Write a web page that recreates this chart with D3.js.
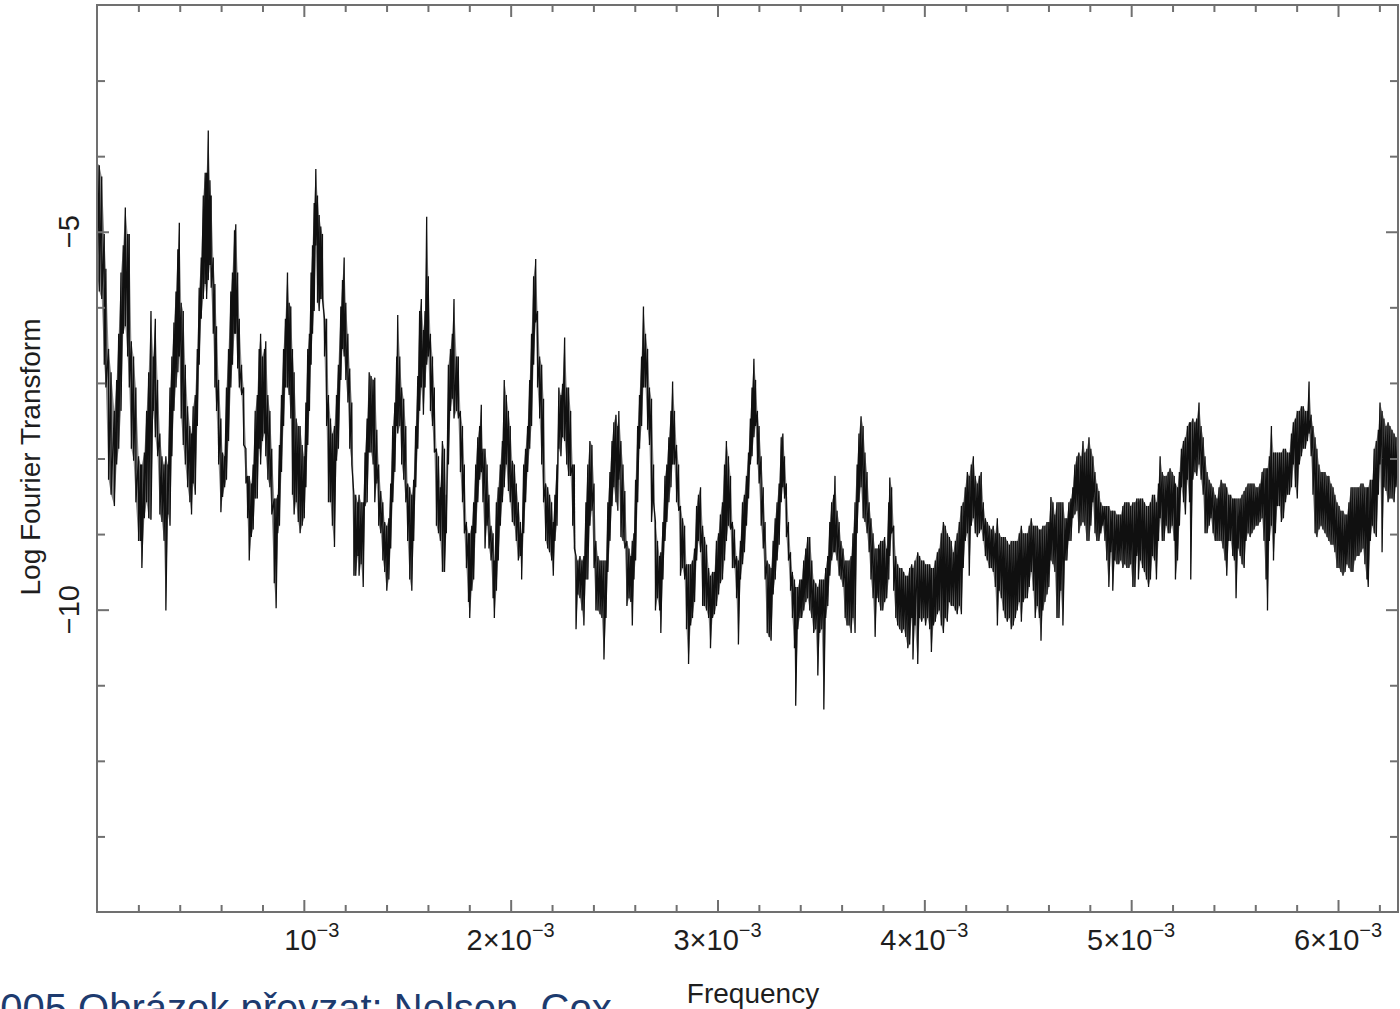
<!DOCTYPE html>
<html>
<head>
<meta charset="utf-8">
<script src="https://cdn.jsdelivr.net/npm/d3@7/dist/d3.min.js"></script>
<style>
body { margin: 0; background: #fff; overflow: hidden; }
svg { display: block; }
text { font-family: "Liberation Sans", Arial, Helvetica, sans-serif; fill: #1e1e1e; }
</style>
</head>
<body>
<script>
//place script in anon function
(function(){

// data: frequency in units of 10^-3,
// upper / lower envelope of the log Fourier transform at that frequency

// 0 - 1.26 x10^-3
var freqA = [0.000,0.011,0.023,0.035,0.043,0.056,0.068,0.084,0.095,0.105,
0.116,0.127,0.137,0.148,0.156,0.166,0.177,0.188,0.201,0.211,
0.217,0.229,0.240,0.250,0.261,0.272,0.282,0.293,0.304,0.314,
0.324,0.333,0.343,0.353,0.362,0.372,0.382,0.391,0.398,0.407,
0.417,0.427,0.438,0.449,0.457,0.465,0.475,0.485,0.494,0.504,
0.514,0.523,0.530,0.538,0.546,0.552,0.562,0.570,0.578,0.588,
0.599,0.607,0.617,0.626,0.636,0.647,0.655,0.665,0.671,0.680,
0.688,0.699,0.709,0.720,0.728,0.736,0.746,0.755,0.765,0.775,
0.784,0.791,0.800,0.810,0.816,0.826,0.836,0.845,0.857,0.866,
0.874,0.882,0.892,0.902,0.911,0.921,0.929,0.937,0.945,0.953,
0.963,0.973,0.982,0.992,1.002,1.010,1.019,1.027,1.035,1.042,
1.050,1.058,1.066,1.074,1.082,1.090,1.100,1.110,1.119,1.129,
1.138,1.148,1.158,1.167,1.179,1.187,1.195,1.203,1.213,1.222,
1.232,1.242,1.251,1.261];
var upperA = [-4.09,-4.12,-4.27,-5.03,-5.49,-6.55,-6.86,-7.37,-6.96,-6.35,
-5.54,-5.18,-4.68,-5.03,-5.03,-6.45,-6.65,-7.06,-7.97,-8.08,
-8.08,-7.92,-7.37,-6.86,-6.05,-6.65,-6.15,-6.96,-7.67,-7.97,
-8.08,-7.97,-8.08,-7.06,-6.65,-6.20,-5.79,-5.23,-4.88,-5.94,
-6.05,-6.76,-7.31,-7.57,-7.67,-7.31,-7.16,-6.55,-5.74,-5.34,
-4.52,-4.22,-4.22,-3.66,-4.32,-4.52,-5.34,-5.69,-6.25,-6.96,
-7.47,-7.92,-7.97,-7.06,-6.55,-5.79,-5.54,-4.98,-4.90,-5.54,
-6.15,-6.76,-7.06,-7.87,-8.23,-8.23,-8.33,-8.08,-7.37,-7.16,
-6.55,-6.35,-6.65,-6.55,-6.45,-7.16,-7.37,-7.87,-8.53,-8.53,
-8.48,-7.82,-7.16,-6.55,-6.15,-5.54,-5.94,-5.99,-6.55,-6.86,
-7.47,-7.57,-7.57,-7.82,-7.97,-7.26,-6.55,-6.35,-5.54,-5.18,
-4.62,-4.17,-4.52,-4.78,-4.93,-5.03,-6.15,-6.15,-7.16,-7.47,
-7.67,-7.57,-7.16,-6.76,-5.99,-5.64,-5.34,-5.94,-6.35,-6.81,
-7.26,-8.48,-8.48,-8.58];
var lowerA = [-5.54,-5.79,-5.89,-6.76,-7.06,-8.28,-8.48,-8.63,-8.08,-7.87,
-7.37,-6.35,-6.25,-6.65,-7.06,-7.87,-8.03,-8.58,-9.09,-9.09,
-9.45,-8.79,-8.58,-8.79,-8.81,-7.37,-7.72,-7.97,-8.74,-8.84,
-9.09,-10.01,-8.74,-8.89,-7.97,-7.37,-7.06,-6.86,-6.65,-7.47,
-7.82,-8.08,-8.38,-8.58,-8.74,-8.33,-8.48,-7.57,-6.76,-6.15,
-5.89,-5.69,-5.89,-5.64,-5.44,-5.74,-6.35,-7.06,-7.37,-8.08,
-8.71,-8.51,-8.38,-8.28,-7.77,-7.06,-6.76,-6.35,-6.35,-6.81,
-7.06,-7.16,-7.82,-8.33,-8.79,-9.35,-9.04,-8.94,-8.53,-8.53,
-7.87,-8.08,-7.77,-7.67,-7.97,-8.28,-8.38,-8.74,-9.65,-9.98,
-8.99,-8.89,-8.18,-7.57,-7.06,-7.06,-7.16,-7.47,-8.48,-8.74,
-8.58,-8.84,-8.99,-8.89,-8.79,-8.38,-7.82,-7.37,-6.76,-6.35,
-6.05,-5.18,-5.94,-6.05,-5.89,-5.89,-6.65,-7.57,-8.58,-8.58,
-8.89,-9.17,-8.03,-7.87,-6.96,-6.55,-6.65,-6.96,-7.26,-7.87,
-8.08,-9.55,-9.55,-9.29];

// 1.26 - 2.52 x10^-3
var freqB = [1.267,1.277,1.287,1.296,1.306,1.316,1.325,1.335,1.343,1.353,
1.362,1.372,1.382,1.391,1.401,1.411,1.420,1.430,1.440,1.449,
1.454,1.464,1.473,1.483,1.493,1.502,1.512,1.522,1.531,1.541,
1.551,1.560,1.568,1.578,1.586,1.594,1.602,1.612,1.622,1.631,
1.641,1.651,1.660,1.670,1.680,1.689,1.699,1.709,1.718,1.726,
1.738,1.747,1.757,1.767,1.776,1.786,1.796,1.802,1.812,1.821,
1.831,1.841,1.850,1.858,1.866,1.876,1.886,1.895,1.905,1.915,
1.921,1.931,1.940,1.950,1.960,1.969,1.979,1.989,1.998,2.008,
2.018,2.027,2.037,2.047,2.053,2.063,2.072,2.082,2.092,2.101,
2.111,2.121,2.130,2.140,2.150,2.159,2.169,2.179,2.188,2.198,
2.206,2.214,2.224,2.233,2.243,2.251,2.261,2.271,2.280,2.290,
2.300,2.308,2.316,2.325,2.335,2.345,2.354,2.364,2.373,2.383,
2.393,2.403,2.412,2.422,2.432,2.441,2.451,2.461,2.470,2.480,
2.490,2.499,2.509,2.518];
var upperB = [-8.48,-8.58,-8.58,-7.92,-7.47,-6.86,-6.91,-6.96,-6.93,-7.62,
-8.08,-8.43,-8.58,-8.84,-8.89,-8.79,-8.33,-7.57,-7.26,-6.65,
-6.10,-6.65,-7.06,-7.21,-7.57,-8.33,-8.38,-8.48,-8.28,-7.57,
-6.91,-6.05,-5.89,-6.30,-6.05,-4.80,-5.59,-6.35,-6.65,-7.06,
-7.87,-7.97,-8.38,-7.77,-7.87,-8.48,-6.76,-6.55,-6.35,-5.89,
-6.65,-6.65,-7.37,-7.57,-8.08,-8.84,-8.99,-8.99,-8.89,-8.58,
-8.08,-7.72,-7.57,-7.29,-7.87,-7.87,-8.08,-8.48,-8.89,-8.99,
-9.35,-8.58,-8.38,-8.08,-7.77,-6.96,-7.16,-7.37,-7.57,-8.03,
-8.08,-8.33,-8.58,-8.84,-8.99,-8.08,-7.87,-7.57,-6.96,-6.35,
-5.59,-5.36,-6.05,-6.65,-6.76,-7.21,-8.33,-8.38,-8.48,-8.58,
-8.84,-8.48,-8.08,-7.06,-7.16,-7.01,-6.40,-7.06,-7.06,-7.37,
-8.08,-8.08,-9.29,-9.35,-9.29,-9.35,-9.29,-8.58,-8.08,-7.77,
-7.82,-8.33,-9.09,-9.29,-9.35,-9.35,-9.35,-9.35,-8.58,-8.18,
-7.77,-7.52,-7.42,-7.57];
var lowerB = [-9.55,-9.40,-9.70,-8.63,-8.58,-7.92,-7.92,-8.08,-8.58,-8.33,
-8.89,-8.99,-9.35,-9.50,-9.75,-9.60,-9.19,-8.58,-8.18,-7.57,
-7.67,-7.57,-8.08,-8.28,-8.58,-9.09,-9.60,-9.75,-9.09,-8.38,
-7.87,-7.37,-7.06,-7.42,-7.06,-6.76,-6.65,-7.37,-7.57,-7.92,
-8.89,-8.99,-9.09,-9.50,-9.50,-8.99,-8.08,-7.37,-7.21,-7.47,
-7.37,-7.47,-8.18,-8.58,-8.99,-9.45,-9.90,-10.11,-9.75,-9.60,
-8.99,-8.58,-8.28,-8.18,-8.58,-9.19,-8.89,-9.19,-9.35,-9.85,
-10.11,-9.75,-9.35,-8.89,-8.58,-8.38,-8.08,-8.43,-8.58,-8.84,
-8.89,-9.09,-9.35,-9.29,-9.60,-8.99,-8.58,-8.18,-7.87,-7.57,
-6.76,-6.20,-7.06,-7.47,-8.08,-8.58,-9.09,-9.19,-9.24,-9.35,
-9.55,-9.09,-8.89,-7.87,-7.97,-7.72,-7.77,-8.08,-8.23,-8.23,
-8.89,-9.19,-10.26,-9.80,-9.85,-10.01,-10.21,-9.60,-9.60,-8.89,
-8.69,-9.45,-10.01,-10.01,-10.06,-10.11,-10.66,-10.11,-9.50,-9.09,
-8.63,-8.38,-8.58,-8.69];

// 2.52 - 3.78 x10^-3
var freqC = [2.523,2.533,2.543,2.552,2.562,2.572,2.581,2.588,2.596,2.604,
2.614,2.623,2.633,2.642,2.652,2.662,2.671,2.681,2.691,2.700,
2.710,2.720,2.726,2.736,2.746,2.755,2.765,2.775,2.783,2.792,
2.802,2.812,2.821,2.831,2.841,2.850,2.860,2.870,2.879,2.889,
2.899,2.908,2.918,2.928,2.937,2.947,2.957,2.966,2.976,2.985,
2.995,3.005,3.014,3.024,3.034,3.043,3.053,3.063,3.072,3.082,
3.092,3.101,3.111,3.121,3.130,3.140,3.150,3.159,3.167,3.176,
3.184,3.193,3.201,3.211,3.221,3.230,3.240,3.250,3.259,3.269,
3.279,3.288,3.298,3.308,3.316,3.324,3.333,3.343,3.353,3.362,
3.372,3.378,3.388,3.398,3.407,3.417,3.427,3.436,3.446,3.456,
3.465,3.475,3.485,3.494,3.504,3.514,3.523,3.533,3.543,3.552,
3.562,3.568,3.578,3.588,3.597,3.607,3.617,3.626,3.636,3.646,
3.655,3.665,3.675,3.684,3.694,3.704,3.713,3.723,3.733,3.742,
3.752,3.762,3.771,3.781];
var upperC = [-7.37,-7.77,-8.08,-8.43,-9.09,-9.19,-9.29,-9.09,-8.99,-8.28,
-7.57,-7.16,-6.65,-5.99,-6.35,-6.55,-7.06,-7.21,-8.08,-8.84,
-9.09,-9.29,-9.24,-8.84,-8.23,-8.08,-7.72,-7.37,-6.98,-7.37,
-7.82,-8.08,-8.63,-8.79,-8.89,-9.40,-9.40,-9.40,-9.35,-9.19,
-8.63,-8.48,-8.38,-8.89,-9.04,-9.14,-9.45,-9.55,-9.50,-9.50,
-9.09,-8.99,-8.74,-8.58,-8.08,-7.77,-7.97,-8.23,-8.84,-8.94,
-9.29,-9.35,-9.09,-8.58,-8.48,-8.23,-7.92,-7.47,-7.06,-6.68,
-6.96,-7.37,-7.57,-7.97,-8.38,-8.84,-9.35,-9.40,-9.45,-9.09,
-8.79,-8.58,-8.33,-7.72,-7.67,-7.97,-8.33,-8.84,-9.24,-9.50,
-9.60,-9.70,-9.70,-9.60,-9.60,-9.35,-9.19,-9.04,-9.04,-9.35,
-9.60,-9.65,-9.70,-9.60,-9.60,-9.60,-9.45,-9.29,-8.84,-8.58,
-8.48,-8.23,-8.69,-8.84,-9.09,-9.19,-9.35,-9.35,-9.35,-9.29,
-8.99,-8.58,-8.08,-7.67,-7.44,-7.57,-7.92,-8.18,-8.58,-8.79,
-8.99,-9.19,-9.19,-9.19];
var lowerC = [-8.28,-9.04,-9.09,-9.19,-9.95,-9.85,-9.90,-10.21,-9.60,-9.35,
-8.58,-7.87,-7.57,-7.06,-7.06,-7.62,-7.82,-8.84,-8.58,-10.01,
-9.85,-10.01,-10.31,-9.60,-9.09,-8.84,-8.58,-8.38,-8.08,-8.08,
-8.58,-8.69,-9.55,-9.45,-9.60,-10.26,-10.72,-10.21,-10.11,-9.90,
-9.35,-9.09,-9.24,-9.95,-9.95,-10.01,-10.11,-10.51,-10.11,-10.06,
-9.95,-9.80,-9.65,-9.60,-9.35,-9.09,-8.89,-8.94,-9.45,-9.45,
-9.85,-10.46,-9.60,-9.40,-9.24,-8.89,-8.53,-8.08,-7.97,-7.72,
-7.57,-8.08,-8.33,-8.89,-9.19,-9.60,-10.31,-10.36,-10.41,-9.80,
-9.60,-9.35,-9.14,-8.58,-8.38,-8.53,-9.04,-9.35,-9.75,-10.11,
-10.51,-11.27,-10.26,-10.11,-10.11,-10.01,-9.90,-9.85,-10.01,-10.11,
-10.31,-10.26,-10.87,-10.31,-10.26,-11.32,-10.11,-9.95,-9.55,-9.35,
-9.24,-9.24,-9.35,-9.55,-9.60,-9.70,-10.11,-10.21,-10.21,-10.31,
-10.11,-10.31,-8.99,-8.58,-8.38,-8.79,-8.84,-8.99,-9.24,-9.60,
-9.85,-10.36,-9.85,-9.70];

// 3.78 - 5.04 x10^-3
var freqD = [3.779,3.789,3.799,3.808,3.818,3.828,3.833,3.842,3.852,3.862,
3.871,3.881,3.891,3.900,3.910,3.920,3.929,3.939,3.945,3.955,
3.968,3.977,3.987,3.997,4.006,4.016,4.026,4.034,4.044,4.053,
4.063,4.072,4.082,4.092,4.101,4.111,4.121,4.130,4.140,4.150,
4.159,4.169,4.179,4.188,4.198,4.208,4.217,4.227,4.237,4.246,
4.256,4.266,4.275,4.285,4.295,4.304,4.314,4.324,4.333,4.343,
4.353,4.362,4.372,4.382,4.391,4.401,4.411,4.420,4.430,4.440,
4.449,4.459,4.469,4.478,4.488,4.498,4.507,4.517,4.527,4.536,
4.546,4.556,4.564,4.573,4.583,4.593,4.602,4.612,4.622,4.631,
4.641,4.651,4.660,4.670,4.680,4.689,4.699,4.709,4.718,4.728,
4.738,4.747,4.757,4.767,4.776,4.786,4.796,4.805,4.815,4.825,
4.834,4.844,4.853,4.863,4.873,4.882,4.892,4.902,4.911,4.921,
4.931,4.940,4.950,4.960,4.969,4.979,4.989,4.998,5.008,5.018,
5.027,5.037];
var upperD = [-9.14,-9.09,-9.09,-9.04,-9.19,-8.58,-8.25,-8.38,-8.89,-9.29,
-9.40,-9.45,-9.45,-9.50,-9.55,-9.55,-9.45,-9.40,-9.45,-9.35,
-9.24,-9.29,-9.35,-9.35,-9.40,-9.40,-9.40,-9.45,-9.45,-9.35,
-9.24,-9.19,-8.99,-8.84,-8.89,-8.99,-9.04,-9.09,-9.24,-9.09,
-8.99,-8.84,-8.63,-8.58,-8.38,-8.18,-8.23,-8.08,-7.97,-8.23,
-8.33,-8.23,-8.18,-8.58,-8.79,-8.84,-8.89,-8.94,-8.89,-8.99,
-8.79,-8.99,-9.04,-9.04,-9.04,-9.09,-9.14,-9.09,-9.09,-9.09,
-9.09,-8.99,-8.89,-8.99,-8.99,-8.99,-8.89,-8.79,-8.89,-8.89,
-8.89,-8.94,-8.94,-8.89,-8.89,-8.84,-8.84,-8.51,-8.58,-8.74,
-8.58,-8.58,-8.58,-8.58,-8.79,-8.79,-8.58,-8.53,-8.38,-8.08,
-7.97,-7.92,-7.97,-7.77,-7.92,-7.87,-7.72,-7.87,-7.97,-8.18,
-8.33,-8.43,-8.58,-8.63,-8.63,-8.63,-8.63,-8.69,-8.69,-8.69,
-8.74,-8.74,-8.74,-8.63,-8.58,-8.58,-8.58,-8.63,-8.58,-8.58,
-8.53,-8.53];
var lowerD = [-9.90,-10.01,-10.01,-9.90,-9.85,-9.60,-9.29,-8.99,-9.75,-10.11,
-10.21,-10.26,-10.31,-10.26,-10.36,-10.51,-10.46,-10.11,-10.66,-10.21,
-10.72,-10.11,-10.16,-10.11,-10.21,-10.11,-10.26,-10.56,-10.21,-10.16,
-10.06,-10.01,-10.21,-10.31,-10.11,-10.16,-9.90,-9.95,-9.95,-10.01,
-10.06,-9.95,-10.06,-9.45,-9.09,-8.99,-9.55,-8.89,-8.79,-8.99,
-9.04,-8.99,-8.94,-9.09,-9.29,-9.35,-9.45,-9.45,-9.50,-9.70,
-10.21,-9.75,-9.85,-10.01,-10.11,-10.16,-10.11,-10.26,-10.21,-10.11,
-10.01,-9.90,-10.16,-9.90,-9.85,-9.85,-9.70,-9.50,-9.75,-10.11,
-9.95,-10.11,-10.41,-10.01,-9.90,-9.80,-9.70,-9.35,-9.40,-9.50,
-10.11,-10.11,-9.75,-10.21,-9.35,-9.35,-9.09,-9.09,-8.79,-8.74,
-8.69,-8.99,-8.89,-8.84,-8.89,-9.09,-9.09,-8.89,-8.58,-8.99,
-9.09,-9.09,-8.99,-8.89,-9.09,-9.35,-9.70,-9.24,-9.75,-9.35,
-9.40,-9.40,-9.35,-9.45,-9.40,-9.45,-9.45,-9.40,-9.70,-9.70,
-9.29,-9.19];

// 5.04 - 6.29 x10^-3
var freqE = [5.035,5.045,5.055,5.064,5.074,5.084,5.093,5.103,5.113,5.122,
5.132,5.140,5.150,5.159,5.169,5.179,5.188,5.198,5.208,5.214,
5.224,5.233,5.243,5.253,5.262,5.272,5.282,5.288,5.298,5.308,
5.317,5.328,5.338,5.348,5.357,5.367,5.377,5.386,5.396,5.406,
5.415,5.425,5.435,5.444,5.454,5.462,5.472,5.481,5.491,5.499,
5.507,5.517,5.527,5.536,5.546,5.555,5.565,5.575,5.584,5.594,
5.604,5.613,5.623,5.633,5.642,5.652,5.659,5.668,5.678,5.688,
5.697,5.707,5.717,5.726,5.736,5.746,5.755,5.765,5.775,5.784,
5.794,5.803,5.813,5.823,5.832,5.842,5.852,5.860,5.870,5.879,
5.889,5.898,5.908,5.918,5.927,5.937,5.947,5.956,5.966,5.976,
5.985,5.995,6.005,6.014,6.024,6.034,6.043,6.053,6.063,6.072,
6.082,6.092,6.101,6.111,6.121,6.130,6.140,6.146,6.156,6.166,
6.175,6.185,6.195,6.203,6.213,6.222,6.232,6.242,6.251,6.261,
6.271,6.280,6.290];
var upperE = [-8.58,-8.53,-8.53,-8.58,-8.63,-8.63,-8.58,-8.48,-8.48,-8.58,
-8.33,-7.97,-8.18,-8.23,-8.23,-8.18,-8.13,-8.18,-8.23,-8.33,
-8.38,-8.18,-7.87,-7.77,-7.72,-7.57,-7.52,-7.52,-7.47,-7.52,
-7.47,-7.26,-7.57,-7.72,-7.97,-8.18,-8.28,-8.33,-8.38,-8.48,
-8.53,-8.38,-8.28,-8.33,-8.33,-8.38,-8.48,-8.48,-8.53,-8.53,
-8.53,-8.53,-8.53,-8.48,-8.43,-8.38,-8.33,-8.33,-8.33,-8.33,
-8.38,-8.38,-8.33,-8.18,-8.13,-8.13,-8.13,-7.97,-7.57,-7.92,
-7.92,-7.92,-7.92,-7.92,-7.87,-7.87,-7.92,-7.92,-7.67,-7.52,
-7.47,-7.37,-7.37,-7.31,-7.31,-7.37,-7.37,-6.98,-7.42,-7.57,
-7.72,-7.87,-8.08,-8.18,-8.18,-8.18,-8.23,-8.23,-8.33,-8.38,
-8.48,-8.58,-8.63,-8.69,-8.69,-8.74,-8.74,-8.58,-8.38,-8.38,
-8.38,-8.38,-8.38,-8.33,-8.33,-8.38,-8.38,-8.38,-8.28,-8.28,
-7.87,-7.77,-7.62,-7.26,-7.37,-7.47,-7.57,-7.52,-7.57,-7.62,
-7.67,-7.72,-7.72];
var lowerE = [-9.60,-9.35,-9.45,-9.50,-9.60,-9.70,-9.60,-9.29,-9.35,-9.60,
-9.09,-8.79,-9.09,-9.09,-8.89,-8.99,-8.99,-8.89,-9.09,-9.60,
-9.35,-8.89,-8.38,-8.58,-8.74,-8.28,-8.58,-9.60,-8.28,-8.18,
-8.23,-8.08,-8.28,-8.48,-8.99,-8.99,-8.89,-8.79,-8.99,-9.09,
-9.09,-9.09,-9.09,-9.19,-9.35,-9.55,-9.09,-9.09,-9.29,-9.35,
-9.85,-9.19,-9.29,-9.40,-9.45,-9.09,-8.99,-9.04,-8.99,-8.94,
-8.89,-8.89,-8.84,-8.79,-9.09,-9.60,-10.01,-9.09,-8.89,-9.35,
-8.99,-8.63,-8.63,-8.84,-8.79,-8.58,-8.48,-8.48,-8.38,-8.08,
-8.38,-8.53,-8.08,-7.97,-7.87,-7.87,-7.77,-7.67,-7.97,-8.48,
-8.99,-9.04,-8.94,-8.89,-8.94,-8.99,-9.04,-9.09,-9.14,-9.14,
-9.24,-9.45,-9.45,-9.50,-9.55,-9.50,-9.40,-9.45,-9.50,-9.50,
-9.35,-9.29,-9.29,-9.24,-9.19,-9.40,-9.60,-9.70,-9.09,-8.89,
-8.99,-9.04,-8.48,-8.08,-9.24,-8.38,-8.43,-8.58,-8.53,-8.53,
-8.58,-8.38,-8.33];

// axis ticks (frequency in 10^-3, log value)
var xMajorTicks = [1, 2, 3, 4, 5, 6];
var xTickLabels = ["10", "2\u00d710", "3\u00d710", "4\u00d710", "5\u00d710", "6\u00d710"];
var xTickExponent = "\u22123";
var yLabelTicks = [-5, -10];
var yTickLabels = ["\u22125", "\u221210"];

// page / frame dimensions
var width = 1400,
    height = 1009,
    frameLeft = 97,
    frameTop = 5,
    frameWidth = 1301,
    frameHeight = 907,
    axisColor = "#707070";

// start script when window loads
window.onload = drawChart();

function drawChart(){

    // join the bands into one series
    var freqs = freqA.concat(freqB, freqC, freqD, freqE),
        upper = upperA.concat(upperB, upperC, upperD, upperE),
        lower = lowerA.concat(lowerB, lowerC, lowerD, lowerE);

    var band = freqs.map(function(f, i){
        return {f: f * 1e-3, hi: upper[i], lo: lower[i]};
    });

    // zig-zag between upper and lower envelope, like the dense raw signal
    var points = [];
    band.forEach(function(d){
        points.push([d.f, d.hi]);
        points.push([d.f, d.lo]);
    });

    var x = d3.scaleLinear()
        .domain([0, 6.29e-3])
        .range([0, frameWidth]);

    var y = d3.scaleLinear()
        .domain([-14, -2])
        .range([frameHeight, 0]);

    var svg = d3.select("body")
        .append("svg")
        .attr("width", width)
        .attr("height", height);

    var plot = svg.append("g")
        .attr("transform", "translate(" + frameLeft + "," + frameTop + ")");

    plot.append("clipPath")
        .attr("id", "clip")
        .append("rect")
        .attr("width", frameWidth)
        .attr("height", frameHeight);

    // grey spread of the signal
    var area = d3.area()
        .x(function(d){ return x(d.f); })
        .y0(function(d){ return y(d.lo); })
        .y1(function(d){ return y(d.hi); });

    plot.append("path")
        .datum(band)
        .attr("clip-path", "url(#clip)")
        .attr("d", area)
        .attr("fill", "#8a8a8a");

    // the transform curve
    var line = d3.line()
        .x(function(d){ return x(d[0]); })
        .y(function(d){ return y(d[1]); });

    plot.append("path")
        .datum(points)
        .attr("clip-path", "url(#clip)")
        .attr("d", line)
        .attr("fill", "none")
        .attr("stroke", "#101010")
        .attr("stroke-width", 1.3);

    // inward ticks on all four sides
    var xMinor = d3.range(0.2e-3, 6.29e-3, 0.2e-3).filter(function(v){
        return Math.abs(v / 1e-3 - Math.round(v / 1e-3)) > 0.01;
    });
    var xMajor = xMajorTicks.map(function(v){ return v * 1e-3; });
    var yMinor = d3.range(-13, -2, 1).filter(function(v){
        return yLabelTicks.indexOf(v) < 0;
    });

    function addAxis(axis, transform){
        var g = plot.append("g")
            .attr("transform", transform)
            .call(axis.tickFormat(""));
        g.select(".domain").remove();
        g.selectAll(".tick line")
            .attr("stroke", axisColor)
            .attr("stroke-width", 2);
        return g;
    };

    addAxis(d3.axisBottom(x).tickValues(xMinor).tickSize(-7), "translate(0," + frameHeight + ")");
    addAxis(d3.axisBottom(x).tickValues(xMajor).tickSize(-12), "translate(0," + frameHeight + ")");
    addAxis(d3.axisTop(x).tickValues(xMinor).tickSize(-7), "translate(0,0)");
    addAxis(d3.axisTop(x).tickValues(xMajor).tickSize(-12), "translate(0,0)");
    addAxis(d3.axisLeft(y).tickValues(yMinor).tickSize(-8), "translate(0,0)");
    addAxis(d3.axisLeft(y).tickValues(yLabelTicks).tickSize(-12), "translate(0,0)");
    addAxis(d3.axisRight(y).tickValues(yMinor).tickSize(-8), "translate(" + frameWidth + ",0)");
    addAxis(d3.axisRight(y).tickValues(yLabelTicks).tickSize(-12), "translate(" + frameWidth + ",0)");

    // frame
    plot.append("rect")
        .attr("width", frameWidth)
        .attr("height", frameHeight)
        .attr("fill", "none")
        .attr("stroke", axisColor)
        .attr("stroke-width", 2);

    // x tick labels with superscript exponent
    var xLabels = plot.selectAll(".xlabel")
        .data(xMajorTicks)
        .enter()
        .append("text")
        .attr("class", "xlabel")
        .attr("x", function(d){ return x(d * 1e-3) + (d == 1 ? 8 : 0); })
        .attr("y", frameHeight + 38)
        .attr("text-anchor", "middle")
        .style("font-size", "29px");

    xLabels.append("tspan")
        .text(function(d, i){ return xTickLabels[i]; });
    xLabels.append("tspan")
        .attr("dy", -13)
        .style("font-size", "20px")
        .text(xTickExponent);

    // y tick labels, rotated
    plot.selectAll(".ylabel")
        .data(yLabelTicks)
        .enter()
        .append("text")
        .attr("class", "ylabel")
        .attr("transform", function(d){
            return "translate(" + (-18) + "," + y(d) + ") rotate(-90)";
        })
        .attr("text-anchor", "middle")
        .style("font-size", "29px")
        .text(function(d, i){ return yTickLabels[i]; });

    // axis titles
    svg.append("text")
        .attr("transform", "translate(40,457) rotate(-90)")
        .attr("text-anchor", "middle")
        .style("font-size", "28px")
        .text("Log Fourier Transform");

    svg.append("text")
        .attr("x", 753)
        .attr("y", 1003)
        .attr("text-anchor", "middle")
        .style("font-size", "28px")
        .text("Frequency");

    // slide footer, cut off at the bottom edge as in the source slide
    svg.append("text")
        .attr("x", -22)
        .attr("y", 1022)
        .style("font-size", "40px")
        .style("fill", "#1d3b6f")
        .text("2005 Obrázek převzat: Nelson, Cox");

}; // end drawChart

})();
</script>
</body>
</html>
